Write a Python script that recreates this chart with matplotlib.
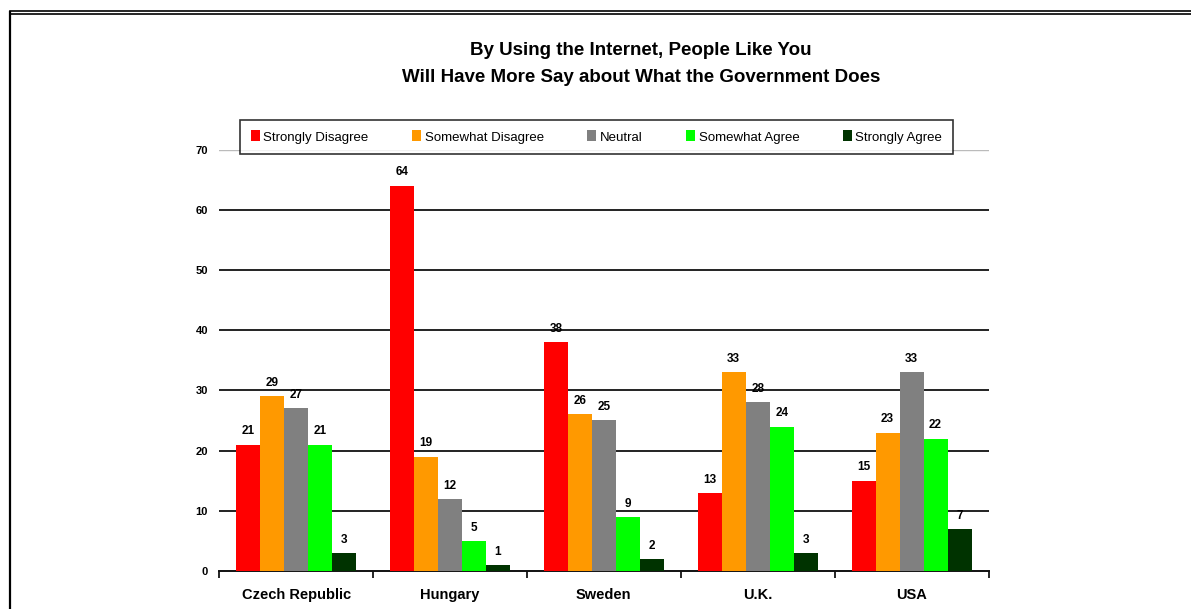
import numpy as np
import matplotlib.pyplot as plt
from matplotlib.lines import Line2D

countries = ["Czech Republic", "Hungary", "Sweden", "U.K.", "USA"]
responses = ["Strongly Disagree", "Somewhat Disagree", "Neutral",
             "Somewhat Agree", "Strongly Agree"]
strongly_disagree = [21, 64, 38, 13, 15]
somewhat_disagree = [29, 19, 26, 33, 23]
neutral = [27, 12, 25, 28, 33]
somewhat_agree = [21, 5, 9, 24, 22]
strongly_agree = [3, 1, 2, 3, 7]

series = [strongly_disagree, somewhat_disagree, neutral, somewhat_agree, strongly_agree]
colors = ["#ff0000", "#ff9900", "#808080", "#00ff00", "#003300"]

plt.rcParams['font.family'] = ['Liberation Sans', 'DejaVu Sans']

fig = plt.figure(figsize=(11.91, 6.09), dpi=100)
ax = fig.add_axes([0.184, 0.0624, 0.646, 0.692])

# frame around the whole chart (double rule on top)
fig.add_artist(Line2D([10 / 1191, 10 / 1191], [0, 1 - 12 / 609], color="black", lw=1.6,
                      transform=fig.transFigure))
fig.add_artist(Line2D([10 / 1191, 1], [1 - 11 / 609, 1 - 11 / 609], color="black", lw=1.2,
                      transform=fig.transFigure))
fig.add_artist(Line2D([10 / 1191, 1], [1 - 13.5 / 609, 1 - 13.5 / 609], color="black", lw=1.2,
                      transform=fig.transFigure))

x = np.arange(len(countries))
width = 0.156
for i, (vals, col) in enumerate(zip(series, colors)):
    pos = x + (i - 2) * width
    ax.bar(pos, vals, width, color=col, label=responses[i], zorder=3)
    for p, v in zip(pos, vals):
        ax.text(p, v + 1.2, str(v), ha="center", va="bottom", fontsize=8.5,
                fontweight="bold", zorder=4)

ax.set_xlim(-0.5, len(countries) - 0.5)
ax.set_ylim(0, 70)
ax.set_yticks(range(0, 71, 10))
for y in range(10, 61, 10):
    ax.axhline(y, color="#111111", lw=1.3, zorder=1)
ax.axhline(70, color="#bbbbbb", lw=1.0, zorder=1)

ax.set_xticks(x)
ax.set_xticklabels(countries, fontsize=10.5, fontweight="bold")
ax.set_xticks(np.arange(-0.5, len(countries), 1), minor=True)
ax.tick_params(axis="x", which="major", length=0, pad=12)
ax.tick_params(axis="x", which="minor", length=5, width=1.2, direction="out")
ax.tick_params(axis="y", length=0, labelsize=8, pad=8)
for lab in ax.get_yticklabels():
    lab.set_fontweight("bold")

for s in ["top", "right", "left"]:
    ax.spines[s].set_visible(False)
ax.spines["bottom"].set_linewidth(1.4)
ax.spines["bottom"].set_color("#111111")

leg = ax.legend(loc="upper center", bbox_to_anchor=(0.4905, 1.086), ncol=5,
                prop={'size': 9.5}, frameon=True, fancybox=False, edgecolor="black",
                handlelength=0.7, handleheight=0.9, handletextpad=0.25,
                columnspacing=3.3, borderpad=0.8)
leg.get_frame().set_linewidth(1.2)

fig.text(0.538, 1 - 64 / 609, "By Using the Internet, People Like You\n"
         "Will Have More Say about What the Government Does",
         ha="center", va="center", fontsize=13.5, fontweight="bold", linespacing=1.8)

fig.savefig("out.png", dpi=100)
